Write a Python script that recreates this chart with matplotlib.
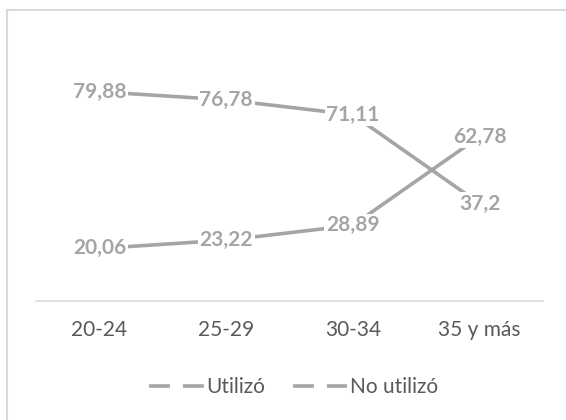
import matplotlib
matplotlib.use("Agg")
import matplotlib.pyplot as plt
from matplotlib.lines import Line2D

# age groups and share (%) for each series
CATEGORIES = ["20-24", "25-29", "30-34", "35 y más"]
UTILIZO = [20.06, 23.22, 28.89, 62.78]
NO_UTILIZO = [79.88, 76.78, 71.11, 37.2]
LABELS_UTILIZO = ["20,06", "23,22", "28,89", "62,78"]
LABELS_NO_UTILIZO = ["79,88", "76,78", "71,11", "37,2"]
SERIES_NAMES = ["Utilizó", "No utilizó"]

GRAY = "#A5A5A5"
TEXT = "#595959"
GRID = "#D9D9D9"

plt.rcParams["font.family"] = ["Lato", "DejaVu Sans"]

fig = plt.figure(figsize=(5.66, 4.2), dpi=100)
ax = fig.add_axes([36 / 566, 1 - 301 / 420, (543 - 36) / 566, (301 - 39) / 420])

x = list(range(len(CATEGORIES)))
for vals, labs in [(UTILIZO, LABELS_UTILIZO), (NO_UTILIZO, LABELS_NO_UTILIZO)]:
    ax.plot(x, vals, color=GRAY, lw=2.6, solid_capstyle="butt", zorder=2)
    for xi, v, lab in zip(x, vals, labs):
        ax.text(xi, v, lab, ha="center", va="center", color=GRAY, fontsize=15,
                fontweight="bold", zorder=3,
                bbox=dict(boxstyle="square,pad=0.08", fc="white", ec="none"))

ax.set_xlim(-0.5, 3.5)
ax.set_ylim(0, 100)
ax.set_xticks(x)
ax.set_xticklabels(CATEGORIES, color=TEXT, fontsize=15)
ax.tick_params(axis="x", length=0, pad=14)
ax.set_yticks([])
for s in ["top", "right", "left"]:
    ax.spines[s].set_visible(False)
ax.spines["bottom"].set_color(GRID)
ax.spines["bottom"].set_linewidth(1.1)

# chart frame (only top and left edges visible in the crop)
ytop = 1 - 10 / 420
xleft = 7 / 566
fig.add_artist(Line2D([xleft, xleft], [0, ytop], color=GRID, lw=1.5, transform=fig.transFigure))
fig.add_artist(Line2D([xleft, 1], [ytop, ytop], color=GRID, lw=1.5, transform=fig.transFigure))

handles = [Line2D([], [], color=GRAY, lw=2.6, dashes=(5.8, 3.6)) for _ in SERIES_NAMES]
leg = fig.legend(handles, SERIES_NAMES, loc="center", bbox_to_anchor=(0.519, 1 - 387 / 420),
                 ncol=2, frameon=False, fontsize=15, handlelength=2.6,
                 handletextpad=0.15, columnspacing=1.3)
for t in leg.get_texts():
    t.set_color(TEXT)

fig.savefig("out.png", dpi=100)
